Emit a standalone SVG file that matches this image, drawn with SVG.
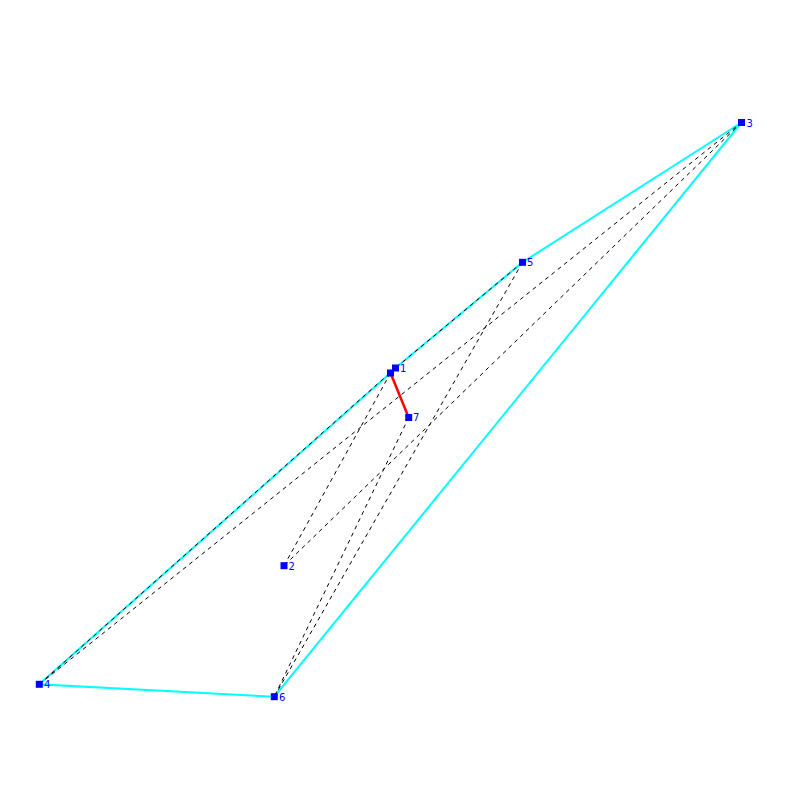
<svg xmlns="http://www.w3.org/2000/svg" width="800" height="800" viewBox="0 0 800 800">
<style>
.hull{fill:none;stroke:#00ffff;stroke-width:2}
.tour{stroke:#000;stroke-width:1;stroke-dasharray:4,4;fill:none}
.sel{stroke:#ff0000;stroke-width:2.5}
.pt{fill:#0000ff}
.lbl{font-family:"DejaVu Sans",sans-serif;font-size:10px;fill:#0000ff}
</style>
<rect width="800" height="800" fill="#fff"/>
<g id="connectors">
<polygon class="hull" points="39.3,684.3 390.5,373 395.5,368 522.5,262.3 741.5,122.5 274.3,696.7"/>
<line class="tour" x1="39.3" y1="684.3" x2="741.5" y2="122.5"/>
<line class="tour" x1="741.5" y1="122.5" x2="284" y2="565.7"/>
<line class="tour" x1="284" y1="565.7" x2="390.5" y2="373"/>
<line class="tour" x1="408.7" y1="417.5" x2="274.3" y2="696.7"/>
<line class="tour" x1="274.3" y1="696.7" x2="522.5" y2="262.3"/>
<line class="tour" x1="522.5" y1="262.3" x2="395.5" y2="368"/>
<line class="tour" x1="395.5" y1="368" x2="39.3" y2="684.3"/>
<line class="sel" x1="390.5" y1="373" x2="408.7" y2="417.5"/>
</g>
<g id="node0"><rect class="pt" x="387" y="369.5" width="7" height="7"/></g>
<g id="node1"><rect class="pt" x="392" y="364.5" width="7" height="7"/><text class="lbl" x="400" y="372">1</text></g>
<g id="node2"><rect class="pt" x="280.5" y="562.2" width="7" height="7"/><text class="lbl" x="288.5" y="569.5">2</text></g>
<g id="node3"><rect class="pt" x="738" y="119" width="7" height="7"/><text class="lbl" x="746.5" y="126.5">3</text></g>
<g id="node4"><rect class="pt" x="35.8" y="680.8" width="7" height="7"/><text class="lbl" x="44" y="688">4</text></g>
<g id="node5"><rect class="pt" x="519" y="258.8" width="7" height="7"/><text class="lbl" x="527" y="266">5</text></g>
<g id="node6"><rect class="pt" x="270.8" y="693.2" width="7" height="7"/><text class="lbl" x="279" y="700.5">6</text></g>
<g id="node7"><rect class="pt" x="405.2" y="414" width="7" height="7"/><text class="lbl" x="413" y="421">7</text></g>
</svg>
